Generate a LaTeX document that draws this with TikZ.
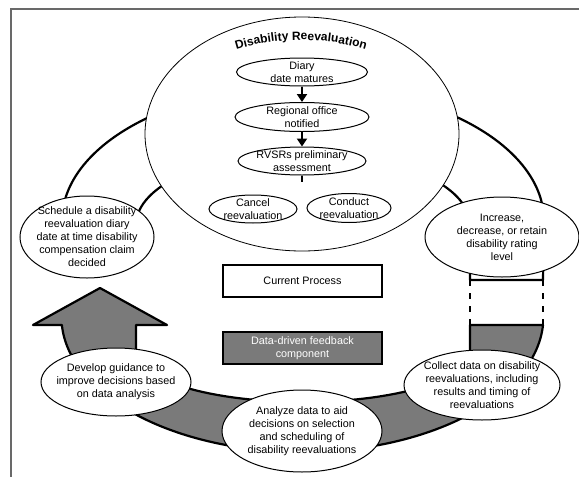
\documentclass[tikz,border=0pt]{standalone}
\usepackage{fontspec}
\setmainfont{Liberation Sans}
\usepackage{tikz}
\usetikzlibrary{arrows.meta,shapes.geometric,decorations.text}
\definecolor{bandgray}{RGB}{122,122,122}
\definecolor{framegray}{RGB}{105,105,105}
\newcommand{\txtfont}{\fontsize{10.8}{13}\selectfont}
\newcommand{\titlefont}{\fontsize{12}{13}\selectfont\bfseries}

\begin{document}
\begin{tikzpicture}[x=1pt,y=-1pt,
    oval/.style={draw,ellipse,fill=white,inner sep=0pt,line width=1pt},
    txt/.style={font=\txtfont,align=center,inner sep=0pt},
    band/.style={draw,line width=2.2pt,line join=round},
    box/.style={draw,line width=2.5pt,minimum width=159pt,minimum height=32pt,
      font=\txtfont,align=center,inner sep=0pt},
    flow/.style={line width=2pt,-{Triangle[width=10pt,length=8pt]}}]
  \useasboundingbox (0,0) rectangle (579,477);
  \draw[framegray,line width=2pt] (579,9) -- (11,9) -- (11,477);

  \draw[band,fill=bandgray] (100,288) -- (167,325) -- (136,325) -- (136,352)
    arc[start angle=180,end angle=0,x radius=167,y radius=50] -- (470,325) -- (543,325)
    arc[start angle=3.4,end angle=176.6,x radius=241,y radius=135] -- (33,325) -- cycle;
  \draw[band,fill=white] (543,280) -- (470,280) -- (470,225)
    arc[start angle=0,end angle=-180,x radius=167,y radius=73] -- (136,255) -- (62,255) -- (62,221)
    arc[start angle=180,end angle=360,x radius=241,y radius=135] -- cycle;
  \coordinate (endL) at (470,280);
  \coordinate (endR) at (543,280);
  \coordinate (feedL) at (470,325);
  \coordinate (feedR) at (543,325);
  \draw[line width=2pt,dash pattern=on 6pt off 7pt] (endL) -- (feedL);
  \draw[line width=2pt,dash pattern=on 6pt off 7pt] (endR) -- (feedR);

  \node[oval,line width=0.8pt,minimum width=314pt,minimum height=234pt] (reeval) at (302,134) {};
  \path[decorate,decoration={text along path,text align=center,
      text={|\titlefont|Disability Reevaluation}}]
    (208.0,60.6) arc[start angle=245,end angle=295,radius=220];

  \node[oval,minimum width=131pt,minimum height=28pt,
    label={[txt]center:Diary\\date matures}] (diary) at (302,72) {};
  \node[oval,minimum width=134pt,minimum height=29pt,
    label={[txt]center:Regional office\\notified}] (office) at (302,117) {};
  \node[oval,minimum width=128pt,minimum height=28pt,
    label={[txt]center:RVSRs preliminary\\assessment}] (rvsr) at (302,161) {};
  \coordinate (split) at (302,182);
  \node[oval,minimum width=88pt,minimum height=28pt,
    label={[txt]center:Cancel\\reevaluation}] (cancel) at (253,209) {};
  \node[oval,minimum width=84pt,minimum height=29pt,
    label={[txt]center:Conduct\\reevaluation}] (conduct) at (349,208) {};
  \draw[flow] (diary) -- (office);
  \draw[flow] (office) -- (rvsr);
  \draw[line width=2pt] (rvsr) -- (split);

  \node[oval,minimum width=134pt,minimum height=82pt,
    label={[txt]center:Schedule a disability\\reevaluation diary\\date at time disability\\compensation claim\\decided}] (schedule) at (87,237) {};
  \node[oval,minimum width=154pt,minimum height=80pt,
    label={[txt]center:Increase,\\decrease, or retain\\disability rating\\level}] (rating) at (502,237) {};
  \node[oval,minimum width=156pt,minimum height=70pt,
    label={[txt]center:Collect data on disability\\reevaluations, including\\results and timing of\\reevaluations}] (collect) at (482,385) {};
  \node[oval,minimum width=160pt,minimum height=82pt,
    label={[txt]center:Analyze data to aid\\decisions on selection\\and scheduling of\\disability reevaluations}] (analyze) at (302,431) {};
  \node[oval,minimum width=150pt,minimum height=68pt,
    label={[txt]center:Develop guidance to\\improve decisions based\\on data analysis}] (develop) at (116,382) {};

  \node[box,fill=white] (current) at (302.5,281) {Current Process};
  \node[box,fill=bandgray,text=white] (feedback) at (302.5,348) {Data-driven feedback\\component};
\end{tikzpicture}
\end{document}
